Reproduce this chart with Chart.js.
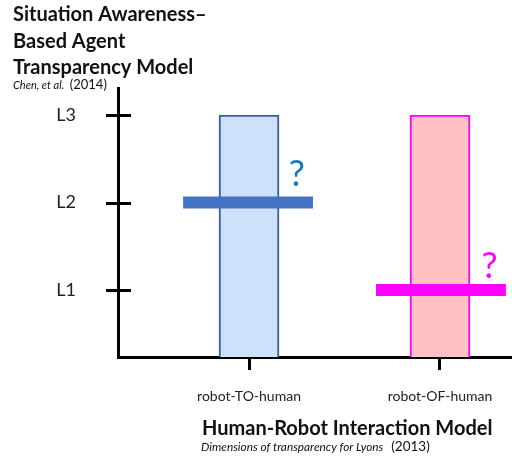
<!DOCTYPE html>
<html>
<head>
<meta charset="utf-8">
<script src="https://cdn.jsdelivr.net/npm/chart.js@4.4.0/dist/chart.umd.min.js"></script>
<style>
  html, body { margin: 0; padding: 0; background: #fff; }
  #wrap { width: 512px; height: 457px; }
</style>
</head>
<body>
<div id="wrap"><canvas id="chart"></canvas></div>
<script>
// === Data ===
const categories = ['robot-TO-human', 'robot-OF-human'];
const categoryPos = [1, 2];
const levelLabels = ['L1', 'L2', 'L3'];
const levelValues = [1, 2, 3];
const rangeTop = [3, 3];            // both models cover up to L3
const agentLevel = [2, 1];          // SAT level marker per model
const markerStart = [0.655, 1.665];
const markerEnd = [1.335, 2.345];
const questionX = [1.25, 2.26];
const questionY = [2.19, 1.14];

const FONT = 'Lato, "Open Sans", sans-serif';
const barFill = ['#cfe0fb', '#ffc1c1'];
const barEdge = ['#3b5c9c', '#ff00ff'];
const markerColor = ['#4472c4', '#ff00ff'];
const questionColor = ['#1677c5', '#ff00ff'];

// --- y-axis ticks that cross the axis line ---
const crossTicks = {
  id: 'crossTicks',
  afterDraw(chart) {
    const { ctx, scales: { y } } = chart;
    const left = chart.chartArea.left;
    ctx.save();
    ctx.strokeStyle = '#000';
    ctx.lineWidth = 3;
    levelValues.forEach(v => {
      const py = Math.round(y.getPixelForValue(v)) + 0.5;
      ctx.beginPath();
      ctx.moveTo(left - 12, py);
      ctx.lineTo(left + 13, py);
      ctx.stroke();
    });
    ctx.restore();
  }
};

// --- question marks + titles ---
const annotations = {
  id: 'annotations',
  afterDraw(chart) {
    const { ctx, scales: { x, y } } = chart;
    ctx.save();
    ctx.textAlign = 'center';
    ctx.textBaseline = 'alphabetic';
    ctx.font = `36px ${FONT}`;
    questionX.forEach((qx, i) => {
      ctx.fillStyle = questionColor[i];
      ctx.fillText('?', x.getPixelForValue(qx), y.getPixelForValue(questionY[i]));
    });

    ctx.textAlign = 'left';
    ctx.fillStyle = '#111';
    ctx.font = `bold 20px ${FONT}`;
    ['Situation Awareness\u2013', 'Based Agent', 'Transparency Model'].forEach((t, i) => {
      ctx.fillText(t, 13, 21 + i * 26.5);
    });
    ctx.font = `italic 11px ${FONT}`;
    ctx.fillText('Chen, et al.', 13, 89);
    let w = ctx.measureText('Chen, et al. ').width;
    ctx.font = `13px ${FONT}`;
    ctx.fillText('(2014)', 16 + w, 89);

    ctx.font = `bold 20px ${FONT}`;
    ctx.fillText('Human-Robot Interaction Model', 202, 435);
    ctx.font = `italic 11.8px ${FONT}`;
    ctx.fillText('Dimensions of transparency for Lyons', 201, 451);
    w = ctx.measureText('Dimensions of transparency for Lyons').width;
    ctx.font = `13.5px ${FONT}`;
    ctx.fillText('(2013)', 201 + w + 8, 451);
    ctx.restore();
  }
};

new Chart(document.getElementById('chart'), {
  type: 'bar',
  data: {
    datasets: [
      {
        type: 'bar',
        data: categoryPos.map((cx, i) => ({ x: cx, y: rangeTop[i] })),
        backgroundColor: barFill,
        borderColor: barEdge,
        borderWidth: 2,
        borderSkipped: false,
        barThickness: 60,
        grouped: false,
        order: 3
      },
      ...categoryPos.map((_, i) => ({
        type: 'line',
        data: [
          { x: markerStart[i], y: agentLevel[i] },
          { x: markerEnd[i], y: agentLevel[i] }
        ],
        borderColor: markerColor[i],
        borderWidth: 12,
        borderCapStyle: 'butt',
        pointRadius: 0,
        fill: false,
        order: 1
      }))
    ]
  },
  options: {
    responsive: true,
    maintainAspectRatio: false,
    animation: false,
    layout: { padding: { top: 88, left: 0, right: 0, bottom: 0 } },
    plugins: { legend: { display: false }, tooltip: { enabled: false } },
    scales: {
      x: {
        type: 'linear',
        offset: false,
        min: 0.314,
        max: 2.377,
        afterBuildTicks: s => { s.ticks = categoryPos.map(v => ({ value: v })); },
        afterFit: s => { s.height = 100; },
        border: { display: true, color: '#000', width: 3 },
        grid: { display: true, offset: false, drawOnChartArea: false, drawTicks: true, tickLength: 13, lineWidth: 3, color: '#000' },
        ticks: {
          padding: 18,
          color: '#222',
          font: { family: FONT, size: 14 },
          maxRotation: 0,
          autoSkip: false,
          callback: v => categories[categoryPos.indexOf(v)] ?? ''
        }
      },
      y: {
        type: 'linear',
        min: 0.234,
        max: 3.309,
        afterBuildTicks: s => { s.ticks = levelValues.map(v => ({ value: v })); },
        afterFit: s => { s.width = 118; },
        border: { display: true, color: '#000', width: 3 },
        grid: { display: false, drawTicks: false },
        ticks: {
          padding: 42,
          color: '#222',
          font: { family: FONT, size: 18 },
          callback: v => levelLabels[levelValues.indexOf(v)] ?? ''
        }
      }
    }
  },
  plugins: [crossTicks, annotations]
});
</script>
</body>
</html>
